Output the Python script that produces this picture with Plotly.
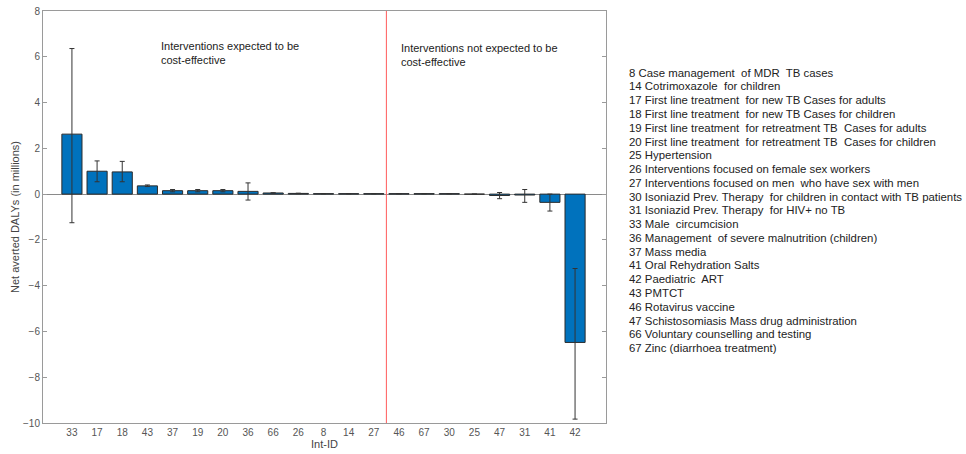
import plotly.graph_objects as go

int_ids = ["33", "17", "18", "43", "37", "19", "20", "36", "66", "26", "8", "14", "27",
           "46", "67", "30", "25", "47", "31", "41", "42"]
net_dalys = [2.62, 1.00, 0.97, 0.36, 0.15, 0.15, 0.15, 0.12, 0.05, 0.03, 0.02, 0.02, 0.02,
             0.02, 0.02, 0.02, 0.00, -0.06, -0.04, -0.36, -6.48]
upper_bound = [6.36, 1.45, 1.43, 0.40, 0.20, 0.20, 0.20, 0.49, 0.06, 0.04, 0.02, 0.02, 0.02,
               0.02, 0.02, 0.02, 0.00, 0.07, 0.20, 0.00, -3.25]
lower_bound = [-1.25, 0.54, 0.54, 0.33, 0.10, 0.10, 0.10, -0.26, 0.04, 0.02, 0.02, 0.02, 0.02,
               0.02, 0.02, 0.02, 0.00, -0.20, -0.36, -0.74, -9.83]
divider_after = 13  # number of interventions expected to be cost-effective

legend_lines = [
    "8 Case management  of MDR  TB cases",
    "14 Cotrimoxazole  for children",
    "17 First line treatment  for new TB Cases for adults",
    "18 First line treatment  for new TB Cases for children",
    "19 First line treatment  for retreatment TB  Cases for adults",
    "20 First line treatment  for retreatment TB  Cases for children",
    "25 Hypertension",
    "26 Interventions focused on female sex workers",
    "27 Interventions focused on men  who have sex with men",
    "30 Isoniazid Prev. Therapy  for children in contact with TB patients",
    "31 Isoniazid Prev. Therapy  for HIV+ no TB",
    "33 Male  circumcision",
    "36 Management  of severe malnutrition (children)",
    "37 Mass media",
    "41 Oral Rehydration Salts",
    "42 Paediatric  ART",
    "43 PMTCT",
    "46 Rotavirus vaccine",
    "47 Schistosomiasis Mass drug administration",
    "66 Voluntary counselling and testing",
    "67 Zinc (diarrhoea treatment)",
]

xpos = list(range(len(int_ids)))
err_plus = [u - v for u, v in zip(upper_bound, net_dalys)]
err_minus = [v - l for v, l in zip(net_dalys, lower_bound)]

FONT = "Liberation Sans, Arial, sans-serif"

fig = go.Figure()
fig.add_trace(go.Bar(
    x=xpos, y=net_dalys, width=0.8,
    marker=dict(color="#0072BD", line=dict(color="#2b2b2b", width=1)),
    error_y=dict(type="data", symmetric=False, array=err_plus, arrayminus=err_minus,
                 color="#333333", thickness=1, width=2.5),
    showlegend=False, hoverinfo="skip",
))

# vertical divider
fig.add_shape(type="line", xref="x", yref="paper",
              x0=divider_after - 0.5, x1=divider_after - 0.5, y0=0, y1=1,
              line=dict(color="#ff5a5a", width=1))

L, R, T, B = 43, 360, 11, 31
W, H = 966, 454
pw, ph = W - L - R, H - T - B

def px_to_paper_x(px):
    return (px - L) / pw

def px_to_paper_y(py):
    return (H - B - py) / ph

fig.add_annotation(text="Interventions expected to be<br>cost-effective", xref="paper", yref="paper",
                   x=px_to_paper_x(159), y=px_to_paper_y(38), xanchor="left", yanchor="top",
                   align="left", showarrow=False, font=dict(family=FONT, size=11, color="#222222"))
fig.add_annotation(text="Interventions not expected to be<br>cost-effective", xref="paper", yref="paper",
                   x=px_to_paper_x(399), y=px_to_paper_y(40), xanchor="left", yanchor="top",
                   align="left", showarrow=False, font=dict(family=FONT, size=11, color="#222222"))

for i, line in enumerate(legend_lines):
    fig.add_annotation(text=line, xref="paper", yref="paper",
                       x=px_to_paper_x(627), y=px_to_paper_y(72.7 + i * 13.77),
                       xanchor="left", yanchor="middle", showarrow=False,
                       font=dict(family=FONT, size=11.4, color="#222222"))

fig.update_layout(
    width=W, height=H,
    margin=dict(l=L, r=R, t=T, b=B, pad=0, autoexpand=False),
    paper_bgcolor="white", plot_bgcolor="white",
    font=dict(family=FONT, size=10, color="#555555"),
    bargap=0.2,
)
fig.update_xaxes(
    automargin=False,
    range=[-1.15, len(int_ids) - 1 + 1.23],
    tickmode="array", tickvals=xpos, ticktext=int_ids,
    showgrid=False, zeroline=False,
    showline=True, linecolor="#9a9a9a", linewidth=1, mirror=True,
    ticks="", tickfont=dict(size=10, color="#555555"),
    title=dict(text="Int-ID", font=dict(size=11, color="#444444"), standoff=0),
)
fig.update_yaxes(
    automargin=False,
    range=[-10, 8], tickmode="array", tickvals=list(range(-10, 9, 2)),
    showgrid=False, zeroline=True, zerolinecolor="#8a8a8a", zerolinewidth=1,
    showline=True, linecolor="#9a9a9a", linewidth=1, mirror="ticks",
    ticks="inside", ticklen=4, tickcolor="#9a9a9a",
    tickfont=dict(size=10, color="#555555"),
    title=dict(text="Net averted DALYs (in millions)", font=dict(size=11, color="#444444"), standoff=1),
)

fig.write_html("out.html", config={"displayModeBar": False, "staticPlot": True},
               post_script="document.body.style.margin='0';document.body.style.overflow='hidden';")
